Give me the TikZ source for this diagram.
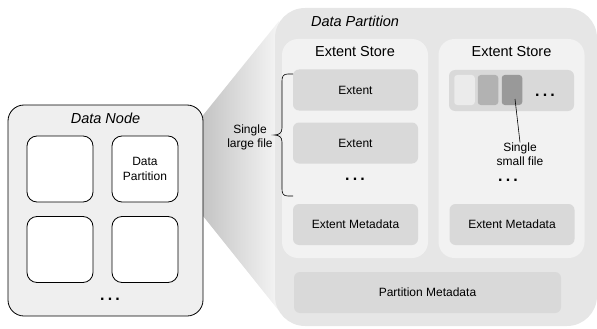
\documentclass[tikz,border=0pt]{standalone}
\usepackage{fontspec}
\setmainfont{Liberation Sans}
\definecolor{panelgray}{HTML}{E6E6E6}
\definecolor{storegray}{HTML}{F2F2F2}
\definecolor{extgray}{HTML}{D9D9D9}
\definecolor{nodegray}{HTML}{EFEFEF}
\begin{document}
\begin{tikzpicture}[x=1pt,y=-1pt,
  every node/.style={inner sep=0pt, outer sep=0pt},
  dnbox/.style={draw=black, line width=0.8pt, fill=nodegray, rounded corners=16pt},
  cell/.style={draw=black, line width=0.8pt, fill=white, rounded corners=10pt, minimum width=66pt, minimum height=66pt},
  panel/.style={fill=panelgray, rounded corners=30pt},
  store/.style={fill=storegray, rounded corners=16pt, minimum width=146pt, minimum height=219pt},
  ext/.style={fill=extgray, rounded corners=6pt, minimum height=41pt},
  title/.style={font=\fontsize{14.5}{16}\selectfont},
  ititle/.style={font=\fontsize{14.5}{16}\selectfont\itshape},
  lbl/.style={font=\fontsize{12}{14.5}\selectfont, align=center},
  dots/.style={font=\fontsize{16}{8}\selectfont\bfseries},
  sq/.style={rounded corners=3pt, minimum width=20.5pt, minimum height=30pt}
]
\useasboundingbox (0,0) rectangle (597,329);
% cone
\shade[left color=black!30, right color=black!4] (175,150) -- (279,21) -- (279,311) -- (175,181) -- cycle;
% data partition panel
\node[panel, minimum width=322pt, minimum height=318pt] (dpanel) at (436,167) {};
\node[ititle] (dptitle) at (355,21) {Data Partition};
% extent stores
\node[store] (s1) at (355,148.5) {};
\node[store] (s2) at (511.5,148.5) {};
\node[title] (s1t) at (355,52) {Extent Store};
\node[title] (s2t) at (511.5,52) {Extent Store};
% left store content
\node[ext, minimum width=125pt, lbl] (e1) at (355.5,90) {Extent};
\node[ext, minimum width=125pt, lbl] (e2) at (355.5,143) {Extent};
\node[dots] (d1) at (355,179) {.\kern3.2pt.\kern3.2pt.};
\node[ext, minimum width=125pt, lbl] (m1) at (355.5,224.5) {Extent Metadata};
% right store content
\node[ext, minimum width=125pt] (bar) at (511.5,90.5) {};
\node[sq, fill=black!8] (q1) at (464.5,90) {};
\node[sq, fill=black!30] (q2) at (488,90) {};
\node[sq, fill=black!40] (q3) at (512,90) {};
\node[dots] (d2) at (545,95) {.\kern3.2pt.\kern3.2pt.};
\node[lbl] (sf) at (520,154) {Single\\small file};
\draw[line width=0.6pt] (515,99) -- (sf.north);
\node[dots] (d3) at (508,180) {.\kern3.2pt.\kern3.2pt.};
\node[ext, minimum width=125pt, lbl] (m2) at (512,224.5) {Extent Metadata};
% partition metadata
\node[ext, minimum width=267pt, lbl] (pm) at (427.5,292.5) {Partition Metadata};
% brace
\draw[line width=0.6pt] (293,74) -- (288,74) .. controls (283.5,74) and (282,76) .. (282,81) -- (282,128) .. controls (282,133) and (279,135) .. (274,135) .. controls (279,135) and (282,137) .. (282,142) -- (282,189) .. controls (282,194) and (283.5,196) .. (288,196) -- (293,196);
\node[lbl] (lf) at (250,137.5) {Single\\large file};
% data node
\node[dnbox, minimum width=195pt, minimum height=211pt] (dn) at (105.5,210.5) {};
\node[ititle] (dnt) at (105.5,118) {Data Node};
\node[cell] (c1) at (60,169) {};
\node[cell, lbl] (c2) at (145,169) {Data\\Partition};
\node[cell] (c3) at (60,249.5) {};
\node[cell] (c4) at (145,249.5) {};
\node[dots] (d4) at (110,299) {.\kern3.2pt.\kern3.2pt.};
\end{tikzpicture}
\end{document}
